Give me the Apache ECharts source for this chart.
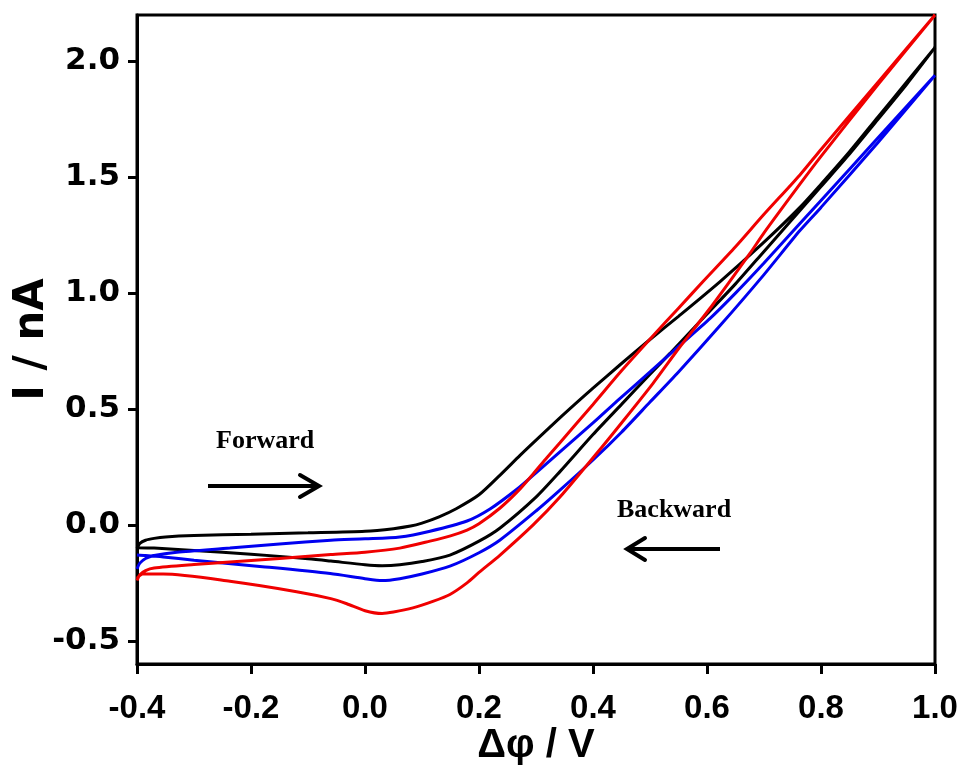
<!DOCTYPE html>
<html>
<head>
<meta charset="utf-8">
<script src="https://cdn.jsdelivr.net/npm/echarts@6/dist/echarts.min.js"></script>
<style>
html,body{margin:0;padding:0;background:#fff;}
#chart{width:963px;height:771px;}
</style>
</head>
<body>
<div id="chart"></div>
<script>
// ---- data (Δφ / V, I / nA) ----
const xTicks = [-0.4, -0.2, 0.0, 0.2, 0.4, 0.6, 0.8, 1.0];
const yTicks = [-0.5, 0.0, 0.5, 1.0, 1.5, 2.0];

const blackForward = [[-0.4,-0.10],[-0.395,-0.08],[-0.385,-0.066],[-0.37,-0.058],[-0.35,-0.052],[-0.3,-0.046],[-0.2,-0.04],[-0.1,-0.034],[0.0,-0.027],[0.05,-0.016],[0.08,-0.005],[0.1,0.008],[0.13,0.035],[0.16,0.07],[0.2,0.13],[0.237,0.215],[0.272,0.30],[0.302,0.37],[0.35,0.48],[0.4,0.59],[0.447,0.69],[0.5,0.80],[0.55,0.90],[0.623,1.05],[0.7,1.22],[0.763,1.37],[0.8,1.47],[0.85,1.61],[0.9,1.76],[0.95,1.91],[1.0,2.06]];
const blackBackward = [[1.0,2.06],[0.95,1.90],[0.9,1.75],[0.85,1.60],[0.8,1.46],[0.75,1.32],[0.7,1.18],[0.65,1.04],[0.6,0.91],[0.535,0.74],[0.5,0.65],[0.45,0.52],[0.4,0.39],[0.342,0.23],[0.3,0.12],[0.237,-0.013],[0.2,-0.07],[0.149,-0.13],[0.1,-0.158],[0.061,-0.172],[0.03,-0.176],[0.0,-0.172],[-0.06,-0.156],[-0.1,-0.146],[-0.2,-0.126],[-0.3,-0.11],[-0.37,-0.10],[-0.4,-0.098]];

const blueForward = [[-0.4,-0.19],[-0.395,-0.165],[-0.385,-0.145],[-0.37,-0.132],[-0.33,-0.118],[-0.237,-0.10],[-0.15,-0.082],[-0.06,-0.066],[0.0,-0.06],[0.061,-0.052],[0.114,-0.027],[0.179,0.017],[0.22,0.07],[0.267,0.155],[0.3,0.225],[0.342,0.315],[0.4,0.44],[0.447,0.545],[0.5,0.66],[0.55,0.77],[0.605,0.89],[0.65,1.00],[0.7,1.13],[0.763,1.30],[0.8,1.40],[0.9,1.67],[1.0,1.94]];
const blueBackward = [[1.0,1.94],[0.9,1.65],[0.8,1.37],[0.763,1.27],[0.7,1.08],[0.623,0.86],[0.55,0.66],[0.5,0.53],[0.45,0.40],[0.4,0.28],[0.342,0.15],[0.3,0.06],[0.237,-0.065],[0.2,-0.12],[0.149,-0.178],[0.1,-0.212],[0.061,-0.232],[0.03,-0.24],[0.0,-0.232],[-0.061,-0.21],[-0.18,-0.18],[-0.3,-0.152],[-0.354,-0.138],[-0.385,-0.132],[-0.4,-0.13]];

const redForward = [[-0.4,-0.24],[-0.395,-0.215],[-0.385,-0.197],[-0.37,-0.186],[-0.3,-0.171],[-0.237,-0.16],[-0.15,-0.145],[-0.06,-0.128],[0.0,-0.118],[0.061,-0.10],[0.114,-0.07],[0.15,-0.047],[0.179,-0.022],[0.2,0.005],[0.237,0.073],[0.27,0.15],[0.295,0.22],[0.319,0.29],[0.342,0.355],[0.4,0.52],[0.45,0.665],[0.505,0.815],[0.55,0.935],[0.593,1.05],[0.65,1.20],[0.7,1.34],[0.763,1.51],[0.8,1.62],[0.9,1.91],[1.0,2.2]];
const redBackward = [[1.0,2.2],[0.9,1.90],[0.8,1.59],[0.763,1.47],[0.7,1.26],[0.675,1.17],[0.61,0.95],[0.55,0.76],[0.505,0.61],[0.45,0.44],[0.407,0.31],[0.342,0.12],[0.295,0.0],[0.237,-0.13],[0.2,-0.205],[0.179,-0.25],[0.149,-0.30],[0.119,-0.33],[0.084,-0.358],[0.05,-0.376],[0.03,-0.382],[0.0,-0.37],[-0.032,-0.34],[-0.06,-0.318],[-0.12,-0.288],[-0.237,-0.243],[-0.354,-0.212],[-0.39,-0.212],[-0.4,-0.23]];

const chart = echarts.init(document.getElementById('chart'), null, {renderer: 'canvas'});

function loop(name, color, fwd, bwd) {
  return {
    name: name,
    type: 'line',
    data: fwd.concat(bwd.slice(1)),
    showSymbol: false,
    smooth: 0.25,
    lineStyle: {color: color, width: 3},
    itemStyle: {color: color},
    silent: true,
    animation: false
  };
}

const option = {
  animation: false,
  backgroundColor: '#ffffff',
  grid: {left: 137, right: 28, top: 15, bottom: 107, show: true, borderColor: '#000', borderWidth: 3,
    backgroundColor: 'transparent', containLabel: false, outerBoundsMode: 'none'},
  xAxis: {
    type: 'value', min: -0.4, max: 1.0, interval: 0.2,
    name: 'Δφ / V', nameLocation: 'middle', nameGap: 62, nameMoveOverlap: false,
    nameTextStyle: {fontFamily: 'Liberation Sans, Arial, sans-serif', fontWeight: 'bold', fontSize: 40, color: '#000'},
    axisLine: {show: true, onZero: false, lineStyle: {color: '#000', width: 3}},
    axisTick: {show: true, inside: false, length: 10, lineStyle: {color: '#000', width: 3}},
    axisLabel: {margin: 28, color: '#000', fontFamily: 'Liberation Sans, Arial, sans-serif', fontWeight: 'bold', fontSize: 33,
      formatter: v => v.toFixed(1)},
    splitLine: {show: false}
  },
  yAxis: {
    type: 'value', min: -0.6, max: 2.2,
    name: 'I / nA', nameLocation: 'middle', nameGap: 84, nameRotate: 90, nameMoveOverlap: false,
    nameTextStyle: {fontFamily: 'DejaVu Sans, sans-serif', fontWeight: 'bold', fontSize: 42, color: '#000'},
    axisLine: {show: true, onZero: false, lineStyle: {color: '#000', width: 3}},
    axisTick: {show: true, inside: false, length: 9, lineStyle: {color: '#000', width: 3}, customValues: yTicks},
    axisLabel: {margin: 17, color: '#000', fontFamily: 'DejaVu Sans, sans-serif', fontWeight: 'bold', fontSize: 31,
      customValues: yTicks, formatter: v => v.toFixed(1)},
    splitLine: {show: false}
  },
  series: [
    loop('black', '#000000', blackForward, blackBackward),
    loop('blue', '#0000f0', blueForward, blueBackward),
    loop('red', '#f00000', redForward, redBackward)
  ],
  graphic: [
    {type: 'text', left: 216, top: 428, style: {text: 'Forward', font: 'bold 26px "Liberation Serif", "Times New Roman", serif', fill: '#000'}},
    {type: 'line', shape: {x1: 208, y1: 486, x2: 318, y2: 486}, style: {stroke: '#000', lineWidth: 4}},
    {type: 'polyline', shape: {points: [[300, 475], [319, 486], [300, 497]]}, style: {stroke: '#000', lineWidth: 4, fill: null, lineCap: 'round', lineJoin: 'miter'}},
    {type: 'text', left: 617, top: 497, style: {text: 'Backward', font: 'bold 26px "Liberation Serif", "Times New Roman", serif', fill: '#000'}},
    {type: 'line', shape: {x1: 628, y1: 549, x2: 720, y2: 549}, style: {stroke: '#000', lineWidth: 4}},
    {type: 'polyline', shape: {points: [[645, 538], [627, 549], [645, 560]]}, style: {stroke: '#000', lineWidth: 4, fill: null, lineCap: 'round', lineJoin: 'miter'}}
  ]
};
chart.setOption(option);
</script>
</body>
</html>
